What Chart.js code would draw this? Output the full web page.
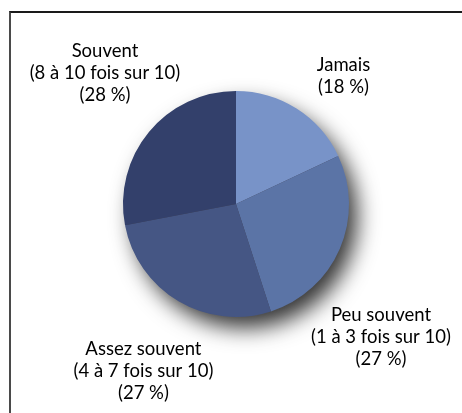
<!DOCTYPE html>
<html>
<head>
<meta charset="utf-8">
<script src="https://cdn.jsdelivr.net/npm/chart.js@4.4.1/dist/chart.umd.min.js"></script>
<style>
    html, body { margin: 0; padding: 0; background: #fff; }
    .wrap { position: relative; width: 462px; height: 413px; overflow: hidden; }
    .frame {
        position: absolute; left: 9px; top: 11px; width: 600px; height: 600px;
        border-left: 2px solid #4a4a4a; border-top: 2px solid #1a1a1a;
    }
    canvas { position: absolute; left: 0; top: 0; }
</style>
</head>
<body>
<div class="wrap">
    <div class="frame"></div>
    <canvas id="chart-frequence" width="462" height="413"></canvas>
</div>
<script>
const categories = ['Jamais', 'Peu souvent', 'Assez souvent', 'Souvent'];
const details = ['', '(1 à 3 fois sur 10)', '(4 à 7 fois sur 10)', '(8 à 10 fois sur 10)'];
const percents = [18, 27, 27, 28];
const colors = ['#7893c8', '#5b74a6', '#455684', '#33406b'];

// where each label sits: angle (deg from top, clockwise) and distance in radii
const labelPlacement = [
    { angle: 40, dist: 1.48 },
    { angle: 132.5, dist: 1.74 },
    { angle: 209, dist: 1.69 },
    { angle: 315, dist: 1.64 }
];

const shadowPlugin = {
    id: 'pieShadow',
    beforeDatasetsDraw(chart) {
        const arc = chart.getDatasetMeta(0).data[0];
        if (!arc) return;
        const ctx = chart.ctx;
        ctx.save();
        ctx.shadowColor = 'rgba(0,0,0,0.8)';
        ctx.shadowBlur = 22;
        ctx.shadowOffsetX = 9;
        ctx.shadowOffsetY = 12;
        ctx.fillStyle = '#445';
        ctx.beginPath();
        ctx.arc(arc.x, arc.y, arc.outerRadius - 1, 0, Math.PI * 2);
        ctx.fill();
        ctx.restore();
    }
};

const labelPlugin = {
    id: 'outerLabels',
    afterDatasetsDraw(chart) {
        const meta = chart.getDatasetMeta(0);
        const ctx = chart.ctx;
        ctx.save();
        ctx.font = '18.5px Lato';
        ctx.fillStyle = '#000';
        ctx.textAlign = 'center';
        ctx.textBaseline = 'middle';
        meta.data.forEach((arc, i) => {
            const p = labelPlacement[i];
            const a = p.angle * Math.PI / 180;
            const cx = arc.x + Math.sin(a) * arc.outerRadius * p.dist;
            const cy = arc.y - Math.cos(a) * arc.outerRadius * p.dist;
            const lines = [categories[i]];
            if (details[i]) lines.push(details[i]);
            lines.push('(' + percents[i] + ' %)');
            const lh = 22;
            const top = cy - (lines.length - 1) * lh / 2;
            lines.forEach((t, k) => ctx.fillText(t, cx, top + k * lh));
        });
        ctx.restore();
    }
};

new Chart(document.getElementById('chart-frequence'), {
    type: 'pie',
    data: {
        labels: categories,
        datasets: [{
            data: percents,
            backgroundColor: colors,
            borderWidth: 0
        }]
    },
    options: {
        responsive: false,
        animation: false,
        layout: { padding: { left: 123, right: 113, top: 91, bottom: 96 } },
        plugins: {
            legend: { display: false },
            tooltip: { enabled: false }
        }
    },
    plugins: [shadowPlugin, labelPlugin]
});
</script>
</body>
</html>
